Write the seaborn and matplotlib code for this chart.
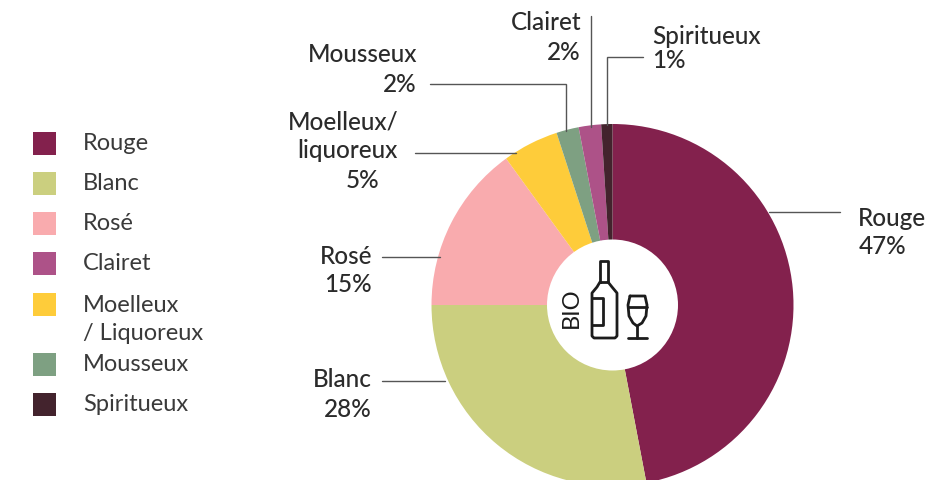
import matplotlib
matplotlib.use('Agg')
import matplotlib.pyplot as plt
import seaborn as sns
from matplotlib.patches import Rectangle, Circle

categories = ['Rouge', 'Blanc', 'Rosé', 'Moelleux/Liquoreux', 'Mousseux', 'Clairet', 'Spiritueux']
values = [47, 28, 15, 5, 2, 2, 1]
colors = ['#83214d', '#cbcf7f', '#f9abae', '#fecc3a', '#7ea082', '#ad5288', '#43232d']

legend_labels = ['Rouge', 'Blanc', 'Rosé', 'Clairet', 'Moelleux', 'Mousseux', 'Spiritueux']
legend_colors = ['#83214d', '#cbcf7f', '#f9abae', '#ad5288', '#fecc3a', '#7ea082', '#43232d']
legend_y = [143, 183, 223, 263, 304, 364, 404]

sns.set_theme(style='white')
plt.rcParams['font.family'] = ['Lato', 'DejaVu Sans']

W, H = 947, 481
TXT = '#3a3a3a'
LINE = '#555555'

fig = plt.figure(figsize=(W / 100, H / 100), dpi=100)
ax = fig.add_axes([0, 0, 1, 1])


def fy(y):
    # picture pixels run downwards, the axes upwards
    return H - y - 1


# donut
ax.pie(values, colors=sns.color_palette(colors), startangle=90, counterclock=False,
       center=(612.5, fy(305)), radius=181, frame=True,
       wedgeprops={'width': 181, 'linewidth': 0})
ax.add_patch(Circle((612.5, fy(305)), 65.5, fc='white', ec='none', zorder=3))
ax.set_xlim(0, W)
ax.set_ylim(0, H)
ax.set_aspect('auto')
ax.axis('off')

# leader lines
leaders = [
    ([769, 840], [212, 212]),
    ([643, 607, 607], [57, 57, 125]),
    ([591, 591], [16, 127]),
    ([430, 566, 566], [84, 84, 131]),
    ([415, 516], [153, 153]),
    ([382, 440], [257, 257]),
    ([382, 445], [381, 381]),
]
for xs, ys in leaders:
    ax.plot(xs, [fy(y) for y in ys], color=LINE, lw=1, zorder=2, solid_joinstyle='miter')

# slice labels
labels = [
    (858, 217, 'Rouge', 'left'), (859, 246, '47%', 'left'),
    (652, 35, 'Spiritueux', 'left'), (652, 60, '1%', 'left'),
    (581, 21, 'Clairet', 'right'), (581, 51, '2%', 'right'),
    (417, 54, 'Mousseux', 'right'), (417, 83, '2%', 'right'),
    (398, 121, 'Moelleux/', 'right'), (398, 150, 'liquoreux', 'right'), (379, 180, '5%', 'right'),
    (372, 255, 'Rosé', 'right'), (372, 283, '15%', 'right'),
    (372, 379, 'Blanc', 'right'), (372, 409, '28%', 'right'),
]
for x, y, s, ha in labels:
    ax.text(x, fy(y), s, ha=ha, va='center', fontsize=17.5, color='#2b2b2b', fontweight='medium')

# legend
for lab, col, y in zip(legend_labels, legend_colors, legend_y):
    ax.add_patch(Rectangle((33, fy(y) - 11.5), 23, 23, fc=col, ec='none'))
    ax.text(83, fy(y), lab, va='center', fontsize=17, color=TXT)
ax.text(83, fy(332), '/ Liquoreux', va='center', fontsize=17, color=TXT)

# centre icon
ICON = '#1c1c1c'
ax.text(571, fy(307), 'BIO', rotation=90, ha='center', va='center', fontsize=17, color=ICON, zorder=5)
ax.plot([600, 600, 608, 608, 600],
        [fy(y) for y in [282, 261, 261, 282, 282]], color=ICON, lw=2, zorder=5)
ax.plot([600, 597, 592, 592, 594, 615, 617, 617, 612, 608],
        [fy(y) for y in [282, 287, 293, 336, 338, 338, 336, 293, 287, 282]],
        color=ICON, lw=2, zorder=5)
ax.plot([592, 603, 603, 592], [fy(y) for y in [298, 298, 325, 325]], color=ICON, lw=2, zorder=5)
ax.plot([630, 628, 629, 633, 637, 642, 646, 647, 645, 630],
        [fy(y) for y in [296, 305, 316, 323, 326, 323, 316, 305, 296, 296]],
        color=ICON, lw=2, zorder=5)
ax.plot([628, 647], [fy(307), fy(307)], color=ICON, lw=2, zorder=5)
ax.plot([637, 637], [fy(326), fy(338)], color=ICON, lw=2, zorder=5)
ax.plot([628, 647], [fy(338), fy(338)], color=ICON, lw=2, zorder=5)

fig.savefig('out.png', dpi=100)
